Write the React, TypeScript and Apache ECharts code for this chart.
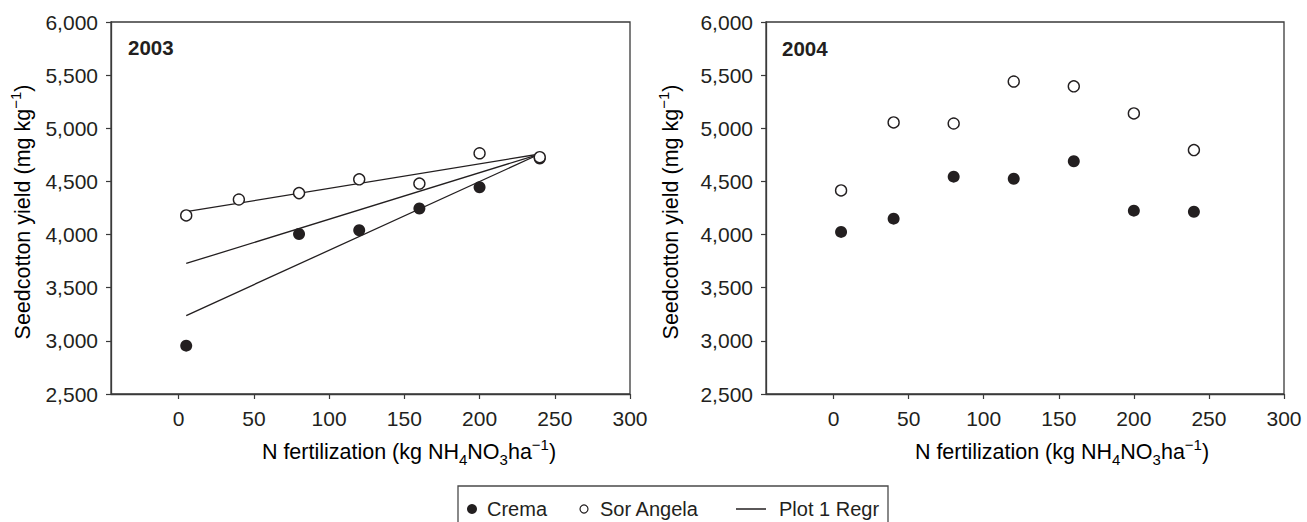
import React, { useEffect, useRef } from 'react';
import * as echarts from 'echarts';

// ---- data ----
const nLevels = [5, 40, 80, 120, 160, 200, 240];
const crema2003X = [5, 80, 120, 160, 200, 240];
const crema2003Y = [2955, 4005, 4040, 4245, 4445, 4715];
const sorAngela2003Y = [4180, 4330, 4390, 4520, 4480, 4765, 4728];
const crema2004Y = [4025, 4150, 4545, 4525, 4690, 4225, 4215];
const sorAngela2004Y = [4415, 5055, 5045, 5440, 5395, 5140, 4795];
const regrX = [5, 240];
const regrSorAngela2003 = [4215, 4758];
const regrAll2003 = [3728, 4758];
const regrCrema2003 = [3238, 4758];
const xTicks = [0, 50, 100, 150, 200, 250, 300];
const yearLabels = ['2003', '2004'];
const legendNames = ['Crema', 'Sor Angela', 'Plot 1 Regr'];

const INK = '#231f20';
const FONT = '"Liberation Sans", Arial, Helvetica, sans-serif';

const pairs = (xs: number[], ys: number[]) => xs.map((x, i) => [x, ys[i]]);

const xTitleRich = {
  a: { fontSize: 21.5, lineHeight: 30, fontFamily: FONT, color: INK },
  sub: { fontSize: 15, lineHeight: 13, verticalAlign: 'bottom', fontFamily: FONT, color: INK },
  sup: { fontSize: 15, lineHeight: 15, verticalAlign: 'top', fontFamily: FONT, color: INK },
};
const xTitle = '{a|N fertilization (kg NH}{sub|4}{a|NO}{sub|3}{a|ha}{sup|−1}{a|)}';
const yTitle = '{a|Seedcotton yield (mg kg}{sup|−1}{a|)}';

export default function App() {
  const ref = useRef<HTMLDivElement>(null);
  useEffect(() => {
    if (!ref.current) return;
    const chart = echarts.init(ref.current, undefined, { renderer: 'svg' });

    const grids = [
      { left: 111, top: 22, width: 519, height: 372 },
      { left: 766, top: 22, width: 518, height: 372 },
    ];

    const xAxis = [0, 1].map((i) => ({
      type: 'value',
      gridIndex: i,
      min: -45,
      max: 300,
      axisLine: { show: true, onZero: false, lineStyle: { color: '#3a3a3a', width: 1.3 } },
      axisTick: { show: true, inside: false, length: 5, customValues: xTicks, lineStyle: { color: '#3a3a3a', width: 1.2 } },
      axisLabel: { customValues: xTicks, fontSize: 21, color: INK, fontFamily: FONT, margin: 14 },
      splitLine: { show: false },
    }));

    const yAxis = [0, 1].map((i) => ({
      type: 'value',
      gridIndex: i,
      min: 2500,
      max: 6000,
      interval: 500,
      axisLine: { show: true, onZero: false, lineStyle: { color: '#3a3a3a', width: 1.3 } },
      axisTick: { show: true, inside: false, length: 5, lineStyle: { color: '#3a3a3a', width: 1.2 } },
      axisLabel: {
        fontSize: 21,
        color: INK,
        fontFamily: FONT,
        margin: 13,
        formatter: (v: number) => v.toLocaleString('en-US'),
      },
      splitLine: { show: false },
    }));

    const regrLine = (ys: number[]) => ({
      type: 'line',
      xAxisIndex: 0,
      yAxisIndex: 0,
      data: pairs(regrX, ys),
      symbol: 'none',
      lineStyle: { color: INK, width: 1.3 },
      z: 1,
      silent: true,
    });
    const filled = (data: number[][], idx: number) => ({
      type: 'scatter',
      name: legendNames[0],
      xAxisIndex: idx,
      yAxisIndex: idx,
      data,
      symbol: 'circle',
      symbolSize: 12,
      itemStyle: { color: INK, opacity: 1 },
      z: 3,
    });
    const open = (data: number[][], idx: number) => ({
      type: 'scatter',
      name: legendNames[1],
      xAxisIndex: idx,
      yAxisIndex: idx,
      data,
      symbol: 'circle',
      symbolSize: 11,
      itemStyle: { color: '#ffffff', borderColor: INK, borderWidth: 1.4, opacity: 1 },
      z: 4,
    });

    const txt = (text: string, x: number, y: number, extra: any = {}) => ({
      type: 'text',
      x,
      y,
      silent: true,
      style: {
        text,
        fontSize: 20,
        fontFamily: FONT,
        fill: INK,
        verticalAlign: 'middle',
        ...extra,
      },
    });

    const option = {
      animation: false,
      backgroundColor: '#ffffff',
      grid: grids.map((g) => ({ ...g, show: true, borderColor: '#3a3a3a', borderWidth: 1.3, backgroundColor: 'transparent' })),
      xAxis,
      yAxis,
      series: [
        regrLine(regrSorAngela2003),
        regrLine(regrAll2003),
        regrLine(regrCrema2003),
        filled(pairs(crema2003X, crema2003Y), 0),
        open(pairs(nLevels, sorAngela2003Y), 0),
        filled(pairs(nLevels, crema2004Y), 1),
        open(pairs(nLevels, sorAngela2004Y), 1),
      ],
      graphic: [
        txt(yearLabels[0], 128, 47, { fontWeight: 'bold', fontSize: 20.5 }),
        txt(yearLabels[1], 782, 48, { fontWeight: 'bold', fontSize: 20.5 }),
        { type: 'text', x: 409, y: 452, silent: true, style: { text: xTitle, rich: xTitleRich, align: 'center', verticalAlign: 'middle' } },
        { type: 'text', x: 1062, y: 452, silent: true, style: { text: xTitle, rich: xTitleRich, align: 'center', verticalAlign: 'middle' } },
        { type: 'text', x: 23, y: 212, rotation: Math.PI / 2, silent: true, style: { text: yTitle, rich: xTitleRich, align: 'center', verticalAlign: 'middle' } },
        { type: 'text', x: 671, y: 212, rotation: Math.PI / 2, silent: true, style: { text: yTitle, rich: xTitleRich, align: 'center', verticalAlign: 'middle' } },
        // legend box
        { type: 'rect', silent: true, shape: { x: 458, y: 486, width: 430, height: 60 }, style: { fill: 'none', stroke: '#4a4a4a', lineWidth: 1.3 } },
        { type: 'circle', silent: true, shape: { cx: 472, cy: 509, r: 5 }, style: { fill: INK } },
        txt(legendNames[0], 487, 509),
        { type: 'circle', silent: true, shape: { cx: 584, cy: 509, r: 4 }, style: { fill: '#fff', stroke: INK, lineWidth: 1.2 } },
        txt(legendNames[1], 600, 509),
        { type: 'line', silent: true, shape: { x1: 736, y1: 509, x2: 766, y2: 509 }, style: { stroke: INK, lineWidth: 1.5 } },
        txt(legendNames[2], 779, 509),
      ],
    };

    chart.setOption(option as any);
    return () => chart.dispose();
  }, []);

  return (
    <div
      ref={ref}
      style={{ position: 'absolute', left: 0, top: 0, width: 1307, height: 522, background: '#fff' }}
    />
  );
}
